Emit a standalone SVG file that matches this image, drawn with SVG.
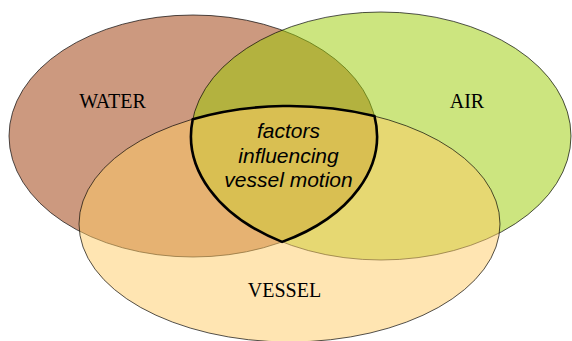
<svg xmlns="http://www.w3.org/2000/svg" width="572" height="341" viewBox="0 0 572 341">
<style>
.set{stroke:#000;stroke-width:0.8;fill-opacity:0.5;stroke-opacity:0.85}
.lbl{font-family:"Liberation Serif","Times New Roman",serif;font-size:20px;fill:#000;text-anchor:middle}
.core{font-family:"Liberation Sans",Arial,sans-serif;font-size:21px;font-style:italic;fill:#000;text-anchor:middle}
</style>
<rect width="572" height="341" fill="#fff"/>
<g id="water">
<ellipse class="set" cx="193" cy="136" rx="184" ry="121" fill="#993300"/>
<text class="lbl" x="112.5" y="108.3">WATER</text>
</g>
<g id="air">
<ellipse class="set" cx="381" cy="136" rx="190" ry="124" fill="#99CC00"/>
<text class="lbl" x="467" y="108.3">AIR</text>
</g>
<g id="vessel">
<ellipse class="set" cx="289.5" cy="224" rx="210.5" ry="118" fill="#FFCC66"/>
<text class="lbl" x="284.5" y="297.3">VESSEL</text>
</g>
<g id="factors">
<path d="M192.75,119.2 A210.5,118 0 0 1 374.47,116.04 A184,121 0 0 1 282.1,241.9 A190,124 0 0 1 192.75,119.2 Z" fill="none" stroke="#000" stroke-width="2.6" stroke-linejoin="miter"/>
<text class="core" x="288.5" y="137.7">factors</text>
<text class="core" x="288.5" y="162.5">influencing</text>
<text class="core" x="288.5" y="187.3">vessel motion</text>
</g>
<g id="connectors"/>
</svg>
